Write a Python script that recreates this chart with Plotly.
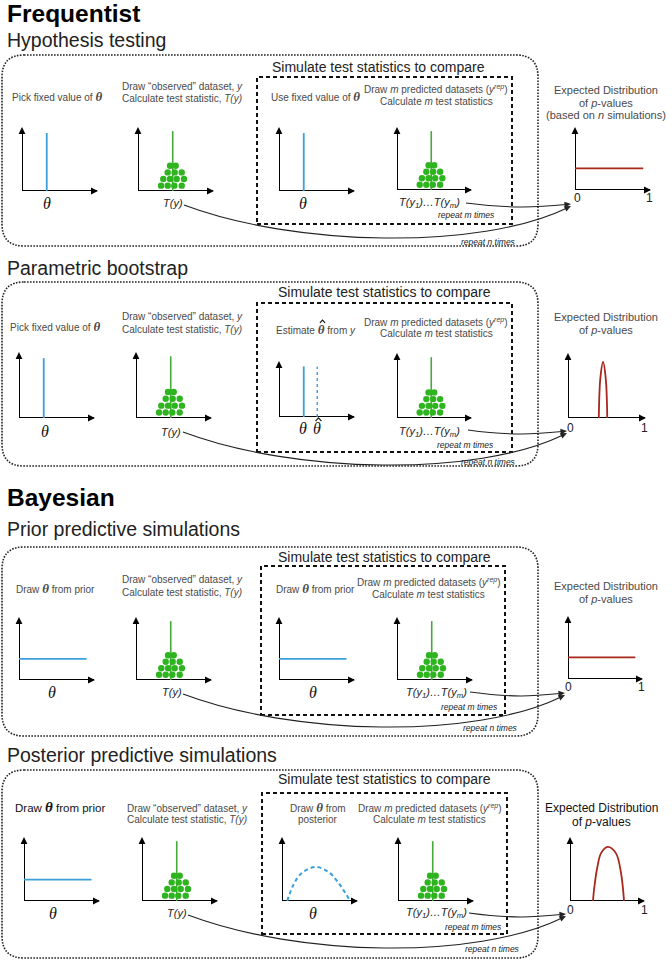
import plotly.graph_objects as go

W, H = 672, 961

# ---------------- data ----------------
theta_fixed = 0.33                 # fixed parameter value on the theta axis
theta_hat = 0.51                   # bootstrap estimate of theta
prior_x = [0.0, 0.9]               # flat prior
prior_y = [0.34, 0.34]
posterior_x = [0.07, 0.15, 0.26, 0.45, 0.62, 0.74, 0.90]
posterior_y = [0.0, 0.25, 0.44, 0.54, 0.46, 0.31, 0.02]
T_obs = 0.463                      # observed test statistic
T_line_top = 0.95
dot_T = [0.307, 0.396, 0.484, 0.583,
         0.337, 0.427, 0.516, 0.613,
         0.396, 0.489, 0.583,
         0.427, 0.503]
dot_stack = [0, 0, 0, 0,
             1, 1, 1, 1,
             2, 2, 2,
             3, 3]
pval_uniform_x = [0.0, 0.91]
pval_uniform_y = [0.35, 0.35]
pval_boot_x = [0.40, 0.42, 0.455, 0.49, 0.51]
pval_boot_y = [0.0, 0.62, 0.875, 0.62, 0.0]
pval_post_x = [0.31, 0.33, 0.37, 0.42, 0.51, 0.62, 0.69, 0.73]
pval_post_y = [0.0, 0.23, 0.54, 0.76, 0.86, 0.76, 0.44, 0.0]

# ---------------- styling ----------------
BLUE = '#3a9fdb'
GREEN_LINE = '#45aa3a'
GREEN_DOT = '#2eb41f'
RED = '#a8281c'
TXT = '#4a4a4a'
DARK = '#111111'
SANS = 'Liberation Sans'
SERIF = 'Liberation Serif'

fig = go.Figure()
annotations, shapes, layout_axes = [], [], {}
counter = [0]


def X(px):
    return px / W


def Y(py):
    return 1 - py / H


def tri(tip, d, length=7.0, hw=3.4, color='black'):
    n = (d[0] ** 2 + d[1] ** 2) ** 0.5
    ux, uy = d[0] / n, d[1] / n
    bx, by = tip[0] - length * ux, tip[1] - length * uy
    p1 = (bx - hw * uy, by + hw * ux)
    p2 = (bx + hw * uy, by - hw * ux)
    p = (f"M {X(tip[0])},{Y(tip[1])} L {X(p1[0])},{Y(p1[1])} "
         f"L {X(p2[0])},{Y(p2[1])} Z")
    shapes.append(dict(type='path', xref='paper', yref='paper', path=p,
                       fillcolor=color, line=dict(width=0)))


def hat(cx, cy, w=2.6, h=1.4):
    p = (f"M {X(cx - w)},{Y(cy + h)} L {X(cx)},{Y(cy - h)} L {X(cx + w)},{Y(cy + h)}")
    shapes.append(dict(type='path', xref='paper', yref='paper', path=p,
                       line=dict(color='#111', width=1.1)))


def add_line(ax, xs, ys, color, width=2.0, dash='solid', shape='linear'):
    fig.add_trace(go.Scatter(x=xs, y=ys, xaxis=ax[0], yaxis=ax[1], mode='lines',
                             line=dict(color=color, width=width, dash=dash, shape=shape),
                             hoverinfo='skip', showlegend=False, cliponaxis=False))


def add_axes(x0, x1, base, top):
    counter[0] += 1
    s = '' if counter[0] == 1 else str(counter[0])
    layout_axes['xaxis' + s] = dict(domain=[X(x0), X(x1)], range=[0, 1], visible=False,
                                    fixedrange=True, anchor='y' + s)
    layout_axes['yaxis' + s] = dict(domain=[Y(base), Y(top)], range=[0, 1], visible=False,
                                    fixedrange=True, anchor='x' + s)
    ax = ('x' + s, 'y' + s)
    add_line(ax, [0, 0, 1], [0.9, 0, 0], 'black', 2)
    add_line(ax, [0, 0], [0, 0.93], 'black', 2)
    tri((x0, top - 1), (0, -1))
    tri((x1 + 1, base), (1, 0))
    return ax


def add_dots(ax):
    add_line(ax, [T_obs, T_obs], [0, T_line_top], GREEN_LINE, 1.6)
    fig.add_trace(go.Scatter(x=dot_T, y=[0.085 + 0.105 * l for l in dot_stack],
                             xaxis=ax[0], yaxis=ax[1], mode='markers',
                             marker=dict(size=6.4, color=GREEN_DOT, line=dict(width=0)),
                             hoverinfo='skip', showlegend=False, cliponaxis=False))


def add_vline(ax, v, dash='solid', width=1.8):
    add_line(ax, [v, v], [0, 0.92], BLUE, width, dash)


def txt(x, y, s, size=10, color=TXT, family=SANS, xanchor='center'):
    annotations.append(dict(x=X(x), y=Y(y), xref='paper', yref='paper', text=s,
                            showarrow=False, font=dict(size=size, color=color, family=family),
                            xanchor=xanchor, yanchor='middle'))


def rounded_rect(x0, y0, x1, y1, r=22):
    p = (f"M {X(x0 + r)},{Y(y0)} L {X(x1 - r)},{Y(y0)} Q {X(x1)},{Y(y0)} {X(x1)},{Y(y0 + r)} "
         f"L {X(x1)},{Y(y1 - r)} Q {X(x1)},{Y(y1)} {X(x1 - r)},{Y(y1)} "
         f"L {X(x0 + r)},{Y(y1)} Q {X(x0)},{Y(y1)} {X(x0)},{Y(y1 - r)} "
         f"L {X(x0)},{Y(y0 + r)} Q {X(x0)},{Y(y0)} {X(x0 + r)},{Y(y0)} Z")
    shapes.append(dict(type='path', xref='paper', yref='paper', path=p,
                       line=dict(color='#222', width=1.6, dash='1.6px,1.4px')))


def dashed_rect(x0, y0, x1, y1):
    shapes.append(dict(type='rect', xref='paper', yref='paper', x0=X(x0), x1=X(x1),
                       y0=Y(y1), y1=Y(y0), line=dict(color='#111', width=2, dash='4px,3px')))


def curve(S, C1, C2, E):
    dx, dy = E[0] - C2[0], E[1] - C2[1]
    n = (dx * dx + dy * dy) ** 0.5
    Ee = (E[0] - 5 * dx / n, E[1] - 5 * dy / n)
    p = (f"M {X(S[0])},{Y(S[1])} C {X(C1[0])},{Y(C1[1])} {X(C2[0])},{Y(C2[1])} "
         f"{X(Ee[0])},{Y(Ee[1])}")
    shapes.append(dict(type='path', xref='paper', yref='paper', path=p,
                       line=dict(color='#222', width=1.1)))
    tri(E, (dx, dy), 6.5, 3.0, '#222')


def arrows(base, sx_big, e_x, small_sx):
    curve((sx_big, base + 14), (sx_big + 112, base + 56), (e_x - 91, base + 59), (e_x, base + 15))
    curve((small_sx, base + 12), (small_sx + 44, base + 18), (e_x - 31, base + 16), (e_x, base + 13))


TH = f"<span style=\"font-family:{SERIF};font-size:13px\"><b><i>θ</i></b></span>"
TY = "<i>T(y)</i>"
TYM = "<i>T(y<sub>1</sub>)…T(y<sub>m</sub>)</i>"
OBS1 = "Draw “observed” dataset, <i>y</i>"
OBS2 = "Calculate test statistic, <i>T(y)</i>"
PRED1 = "Draw <i>m</i> predicted datasets (<i>y<sup>rep</sup></i>)"
PRED2 = "Calculate <i>m</i> test statistics"
SIM = "Simulate test statistics to compare"


def theta_label(x, y, s="<i>θ</i>"):
    txt(x, y, s, size=16, color='#111', family=SERIF)


# ---------------- headings ----------------
txt(5, 13, "<b>Frequentist</b>", 24.5, '#000', SANS, 'left')
txt(5, 40, "Hypothesis testing", 19.5, '#222', SANS, 'left')
txt(5, 268, "Parametric bootstrap", 19.5, '#222', SANS, 'left')
txt(5, 497, "<b>Bayesian</b>", 24.5, '#000', SANS, 'left')
txt(5, 529, "Prior predictive simulations", 19.5, '#222', SANS, 'left')
txt(5, 755, "Posterior predictive simulations", 19.5, '#222', SANS, 'left')

# ---------------- panel 1: hypothesis testing ----------------
rounded_rect(2, 55, 538, 246)
dashed_rect(257, 77, 512, 224)
txt(378, 67, SIM, 14, '#222')
a = add_axes(22, 97, 191, 128); add_vline(a, theta_fixed)
a = add_axes(138, 213, 191, 128); add_dots(a)
a = add_axes(279, 354, 191, 128); add_vline(a, theta_fixed)
a = add_axes(397, 471, 190, 128); add_dots(a)
a = add_axes(575, 650, 190, 128); add_line(a, pval_uniform_x, pval_uniform_y, RED, 1.8)
txt(57, 97, "Pick fixed value of " + TH)
txt(182, 87, OBS1); txt(182, 99, OBS2)
txt(315, 97, "Use fixed value of " + TH)
txt(436, 89, PRED1); txt(436, 101, PRED2)
txt(606, 90, "Expected Distribution", 11); txt(606, 103, "of <i>p</i>-values", 11)
txt(606, 115, "(based on <i>n</i> simulations)", 11)
theta_label(47, 203); txt(173, 203, TY, 11, '#222'); theta_label(303, 203)
txt(430, 203, TYM, 11, '#222'); txt(466, 215, "<i>repeat m times</i>", 8.5, '#222')
txt(577, 198, "0", 12, '#222'); txt(649, 198, "1", 12, '#222')
txt(488, 242, "<i>repeat n times</i>", 8.5, '#222')
arrows(191, 184, 571, 466)

# ---------------- panel 2: parametric bootstrap ----------------
rounded_rect(2, 282, 538, 466)
dashed_rect(257, 303, 512, 452)
txt(384, 292, SIM, 14, '#222')
a = add_axes(19, 94, 418, 353); add_vline(a, theta_fixed)
a = add_axes(136, 211, 418, 353); add_dots(a)
a = add_axes(279, 354, 417, 362); add_vline(a, theta_fixed); add_vline(a, theta_hat, 'dot', 1.4)
a = add_axes(397, 471, 418, 354); add_dots(a)
a = add_axes(568, 645, 418, 354); add_line(a, pval_boot_x, pval_boot_y, RED, 1.8, shape='spline')
txt(55, 326, "Pick fixed value of " + TH)
txt(182, 317, OBS1); txt(182, 329, OBS2)
txt(316, 329, "Estimate " + TH + " from <i>y</i>")
hat(322.5, 321.5)
txt(436, 322, PRED1); txt(436, 333, PRED2)
txt(606, 317, "Expected Distribution", 11); txt(606, 330, "of <i>p</i>-values", 11)
theta_label(45, 432); txt(171, 432, TY, 11, '#222')
theta_label(303, 428); theta_label(317, 428); hat(318.5, 419.5, 3.0, 1.6)
txt(430, 432, TYM, 11, '#222'); txt(465, 445, "<i>repeat m times</i>", 8.5, '#222')
txt(570, 428, "0", 12, '#222'); txt(644, 428, "1", 12, '#222')
txt(488, 462, "<i>repeat n times</i>", 8.5, '#222')
arrows(418, 183, 567, 468)

# ---------------- panel 3: prior predictive ----------------
rounded_rect(2, 547, 538, 736)
dashed_rect(261, 566, 505, 715)
txt(384, 557, SIM, 14, '#222')
a = add_axes(19, 94, 680, 618); add_line(a, prior_x, prior_y, BLUE, 1.8)
a = add_axes(136, 211, 680, 618); add_dots(a)
a = add_axes(279, 354, 680, 618); add_line(a, prior_x, prior_y, BLUE, 1.8)
a = add_axes(397, 472, 680, 618); add_dots(a)
a = add_axes(568, 642, 679, 617); add_line(a, pval_uniform_x, pval_uniform_y, RED, 1.8)
txt(55, 588, "Draw " + TH + " from prior")
txt(182, 579, OBS1); txt(182, 592, OBS2)
txt(315, 588, "Draw " + TH + " from prior")
txt(429, 582, PRED1); txt(429, 594, PRED2)
txt(606, 586, "Expected Distribution", 11); txt(606, 599, "of <i>p</i>-values", 11)
theta_label(52, 692); txt(172, 692, TY, 11, '#222'); theta_label(313, 692)
txt(436, 693, TYM, 11, '#222'); txt(469, 707, "<i>repeat m times</i>", 8.5, '#222')
txt(568, 687, "0", 12, '#222'); txt(641, 687, "1", 12, '#222')
txt(490, 728, "<i>repeat n times</i>", 8.5, '#222')
arrows(680, 183, 565, 470)

# ---------------- panel 4: posterior predictive ----------------
rounded_rect(2, 770, 538, 958)
dashed_rect(262, 793, 507, 934)
txt(384, 779, SIM, 14, '#222')
a = add_axes(24, 99, 901, 838); add_line(a, prior_x, prior_y, BLUE, 1.8)
a = add_axes(142, 217, 901, 838); add_dots(a)
a = add_axes(282, 357, 901, 838); add_line(a, posterior_x, posterior_y, BLUE, 2, '4px,3px', 'spline')
a = add_axes(398, 473, 901, 838); add_dots(a)
a = add_axes(570, 644, 901, 838); add_line(a, pval_post_x, pval_post_y, RED, 1.8, shape='spline')
txt(60, 807, "Draw " + f"<span style=\"font-family:{SERIF};font-size:15px\"><b><i>θ</i></b></span>" + " from prior", 11.5, DARK)
txt(187, 808, OBS1); txt(187, 819, OBS2)
txt(318, 807, "Draw " + TH + " from"); txt(318, 819, "posterior")
txt(430, 808, PRED1); txt(430, 819, PRED2)
txt(601, 808, "Expected Distribution", 12, DARK); txt(601, 822, "of <i>p</i>-values", 12, DARK)
theta_label(53, 913); txt(177, 913, TY, 11, '#222'); theta_label(313, 913)
txt(436, 913, TYM, 11, '#222'); txt(473, 927, "<i>repeat m times</i>", 8.5, '#222')
txt(570, 910, "0", 12, '#222'); txt(644, 910, "1", 12, '#222')
txt(493, 949, "<i>repeat n times</i>", 8.5, '#222')
arrows(901, 188, 566, 469)

fig.update_layout(width=W, height=H, autosize=False, margin=dict(l=0, r=0, t=0, b=0),
                  paper_bgcolor='white', plot_bgcolor='rgba(0,0,0,0)',
                  annotations=annotations, shapes=shapes, showlegend=False,
                  **layout_axes)
fig.write_html("out.html", config={'displayModeBar': False},
               post_script="document.body.style.margin='0';document.body.style.overflow='hidden';")
